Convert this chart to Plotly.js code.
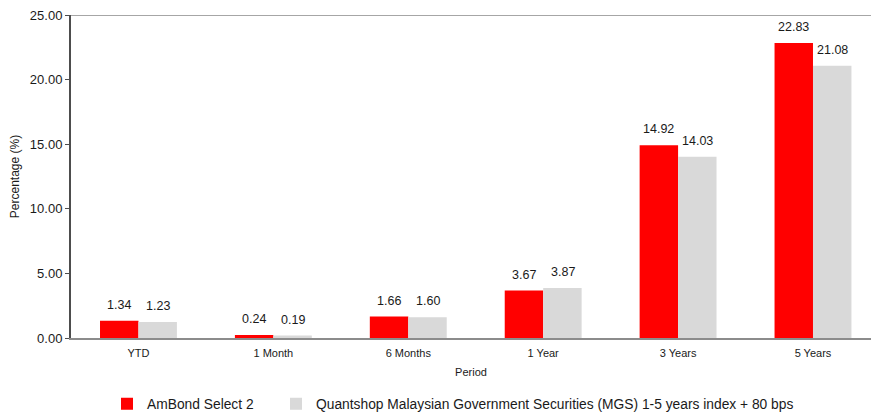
<!DOCTYPE html>
<html>
<head>
<meta charset="utf-8">
<script src="https://cdn.plot.ly/plotly-3.0.1.min.js"></script>
<style>html,body{margin:0;padding:0;background:#fff;}#chart{width:871px;height:414px;}</style>
</head>
<body>
<div id="chart"></div>
<script>
const categories = ["YTD", "1 Month", "6 Months", "1 Year", "3 Years", "5 Years"];
const fundName = "AmBond Select 2";
const benchName = "Quantshop Malaysian Government Securities (MGS) 1-5 years index + 80 bps";
const fundValues = [1.34, 0.24, 1.66, 3.67, 14.92, 22.83];
const benchValues = [1.23, 0.19, 1.60, 3.87, 14.03, 21.08];
const yTicks = [0, 5, 10, 15, 20, 25];

const font = "Arial, 'Liberation Sans', Helvetica, sans-serif";

const traces = [
  {type: "bar", name: fundName, x: categories, y: fundValues, legend: "legend",
   marker: {color: "#ff0000"}, hoverinfo: "none"},
  {type: "bar", name: benchName, x: categories, y: benchValues, legend: "legend2",
   marker: {color: "#d9d9d9"}, hoverinfo: "none"}
];

const annotations = [];
[[fundValues, -0.5], [benchValues, 0.5]].forEach(([vals, side]) => {
  vals.forEach((v, i) => {
    annotations.push({
      x: i, y: v, xref: "x", yref: "y",
      text: v.toFixed(2), showarrow: false,
      xshift: side * 39, yshift: 16,
      xanchor: "center", yanchor: "middle",
      font: {family: font, size: 12.5, color: "#1a1a1a"}
    });
  });
});

const legendBase = {
  orientation: "h", xanchor: "left", y: -0.204, yanchor: "middle",
  font: {family: font, size: 13.8, color: "#1a1a1a"},
  itemwidth: 30, bgcolor: "rgba(0,0,0,0)"
};

const layout = {
  width: 871, height: 414,
  margin: {l: 71, r: 0, t: 15, b: 76, autoexpand: false},
  paper_bgcolor: "#fff", plot_bgcolor: "#fff",
  barmode: "group", bargap: 0.43, bargroupgap: 0,
  font: {family: font, color: "#1a1a1a"},
  showlegend: true,
  legend: Object.assign({}, legendBase, {x: 0.045}),
  legend2: Object.assign({}, legendBase, {x: 0.25625}),
  xaxis: {
    type: "category", range: [-0.5, 5.43], fixedrange: true, automargin: false,
    showline: true, linecolor: "#8c8c8c", linewidth: 2,
    ticks: "", showgrid: false, zeroline: false,
    tickfont: {family: font, size: 11, color: "#1a1a1a"},
    ticklabelstandoff: 4,
    title: {text: "Period", font: {family: font, size: 11, color: "#1a1a1a"}, standoff: 10}
  },
  yaxis: {
    range: [0, 25], tickvals: yTicks, ticktext: yTicks.map(v => v.toFixed(2)),
    automargin: false,
    showline: true, linecolor: "#4d4d4d", linewidth: 2,
    ticks: "outside", ticklen: 4, tickcolor: "#4d4d4d", tickwidth: 1,
    showgrid: false, zeroline: false,
    tickfont: {family: font, size: 13, color: "#1a1a1a"},
    title: {text: "Percentage (%)", font: {family: font, size: 12, color: "#1a1a1a"}, standoff: 8}
  },
  shapes: [{type: "line", xref: "paper", yref: "y", x0: 0, x1: 1, y0: 25, y1: 25,
            line: {color: "#a6a6a6", width: 2}}],
  annotations: annotations
};

Plotly.newPlot("chart", traces, layout, {staticPlot: true, displayModeBar: false});
</script>
</body>
</html>
